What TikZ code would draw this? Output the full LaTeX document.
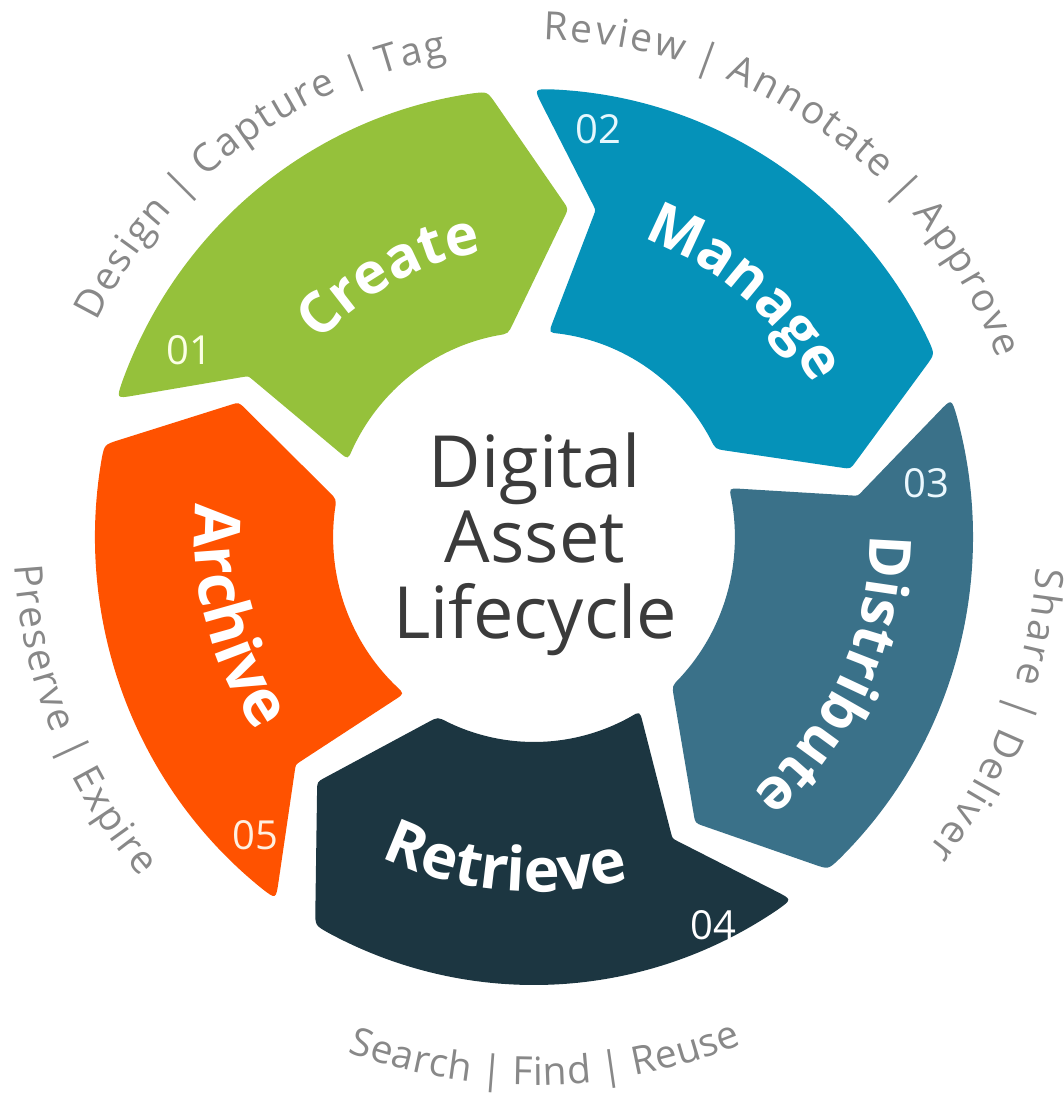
\documentclass[tikz,border=0pt]{standalone}
\usepackage{fontspec}
\setmainfont{Open Sans}
\usetikzlibrary{decorations.text,calc}
\definecolor{cgreen}{HTML}{95C13B}
\definecolor{cblue}{HTML}{0592B9}
\definecolor{csteel}{HTML}{3A7189}
\definecolor{cdark}{HTML}{1C3641}
\definecolor{corange}{HTML}{FF5200}
\definecolor{cgray}{HTML}{888888}
\definecolor{ctext}{HTML}{3B3B3B}
\newcommand\dalRo{448}
\newcommand\dalRi{205}
\newcommand\dalseg[2]{%
  \coordinate (sO1) at ({#1}:\dalRo);
  \coordinate (sN) at ({#1-10.9}:333);
  \coordinate (sI1) at ({#1-4.2}:\dalRi);
  \coordinate (sI2) at ({#1-64.6}:\dalRi);
  \coordinate (sT) at ({#1-78.1}:330);
  \coordinate (sO2) at ({#1-65.9}:\dalRo);
  \fill[#2] ($(sO1)!18pt!(sN)$) -- ($(sN)!6pt!(sO1)$) .. controls (sN) .. ($(sN)!6pt!(sI1)$)
    -- ($(sI1)!11pt!(sN)$) .. controls (sI1) .. ({#1-4.2-3.1}:\dalRi)
    arc[start angle={#1-4.2-3.1}, end angle={#1-64.6+3.1}, radius=\dalRi]
    .. controls (sI2) .. ($(sI2)!11pt!(sT)$) -- ($(sT)!9pt!(sI2)$) .. controls (sT) .. ($(sT)!9pt!(sO2)$)
    -- ($(sO2)!15pt!(sT)$) .. controls (sO2) .. ({#1-65.9+1.9}:\dalRo)
    arc[start angle={#1-65.9+1.9}, end angle={#1-2.3}, radius=\dalRo]
    .. controls (sO1) .. ($(sO1)!18pt!(sN)$) -- cycle;}
\newcommand\ofont{\fontsize{39}{39}\selectfont}
\newcommand\dka{\kern2.2pt}
\newcommand\dkb{\kern2.6pt}
\newcommand\dkc{\kern2.8pt}
\newcommand\dkd{\kern0.5pt}
\newcommand\dke{\kern2.0pt}
\begin{document}
\begin{tikzpicture}[x=1pt,y=1pt,
  numlabel/.style={font=\fontsize{40}{40}\selectfont, inner sep=0pt},
  centerlabel/.style={text=ctext, font=\fontsize{72}{72}\selectfont, anchor=base, inner sep=0pt},
  arctext/.style={decorate, decoration={text along path, text format delimiters={[}{]}, text align=center, text={[\color{cgray}\ofont]#1}}},
  mainarc/.style 2 args={decorate, decoration={text along path, text format delimiters={[}{]}, text align=center, text={[\color{white}\bfseries\fontsize{#1}{#1}\selectfont]#2}}}
]
\useasboundingbox (-534,-560) rectangle (530,537);
\begin{scope}[xscale=0.98]
  \dalseg{-198}{cgreen}
  \dalseg{90}{cblue}
  \dalseg{18}{csteel}
  \dalseg{-54}{cdark}
  \dalseg{234}{corange}
\end{scope}
% segment labels (clockwise: tops outward; counter-clockwise: tops inward)
\path[mainarc={57}{Create}] (154:290) arc[start angle=154, end angle=84, radius=290];
\path[mainarc={58}{Manage}] (84.3:318) arc[start angle=84.3, end angle=14.3, radius=318];
\path[mainarc={58}{Distribute}] (10.5:336) arc[start angle=10.5, end angle=-59.5, radius=336];
\path[mainarc={61}{Retrieve}] (230:355) arc[start angle=230, end angle=300, radius=355];
\path[mainarc={64}{Archive}] (159.7:339) arc[start angle=159.7, end angle=229.7, radius=339];
% numbers
\node[numlabel, text=green!15!yellow!10!white] (n1) at (151.5:392) {01};
\node[numlabel, text=cyan!10!white] (n2) at (81:413) {02};
\node[numlabel, text=cyan!8!white] (n3) at (7.8:396) {03};
\node[numlabel, text=white] (n4) at (-65.2:428) {04};
\node[numlabel, text=orange!12!white] (n5) at (227:408) {05};
% centre
\node[centerlabel] (c1) at (1,49) {Digital};
\node[centerlabel] (c2) at (1,-26) {Asset};
\node[centerlabel] (c3) at (1,-101) {Lifecycle};
% outer texts
\path[arctext={{D\dka}{e\dka}{s\dka}{i\dka}{g\dka}{n\dka} {|\dka} {C\dka}{a\dka}{p\dka}{t\dka}{u\dka}{r\dka}{e\dka} {|\dka} {T\dka}{a\dka}{g}}]
  (172:487) arc[start angle=172, end angle=82, radius=487];
\path[arctext={{R\dkb}{e\dkb}{v\dkb}{i\dkb}{e\dkb}{w\dkb} {|\dkb} {A\dkb}{n\dkb}{n\dkb}{o\dkb}{t\dkb}{a\dkb}{t\dkb}{e\dkb} {|\dkb} {A\dkb}{p\dkb}{p\dkb}{r\dkb}{o\dkb}{v\dkb}{e}}]
  (100:497) arc[start angle=100, end angle=10, radius=497];
\path[arctext={{S\dkc}{h\dkc}{a\dkc}{r\dkc}{e\dkc} {|\dkc} {D\dkc}{e\dkc}{l\dkc}{i\dkc}{v\dkc}{e\dkc}{r}}]
  (24:503) arc[start angle=24, end angle=-66, radius=503];
\path[arctext={{S\dkd}{e\dkd}{a\dkd}{r\dkd}{c\dkd}{h\dkd} {|\dkd} {F\dkd}{i\dkd}{n\dkd}{d\dkd} {|\dkd} {R\dkd}{e\dkd}{u\dkd}{s\dkd}{e}}]
  (226.2:548) arc[start angle=226.2, end angle=316.2, radius=548];
\path[arctext={{P\dke}{r\dke}{e\dke}{s\dke}{e\dke}{r\dke}{v\dke}{e\dke} {|\dke} {E\dke}{x\dke}{p\dke}{i\dke}{r\dke}{e}}]
  (157:520) arc[start angle=157, end angle=247, radius=520];
\end{tikzpicture}
\end{document}
